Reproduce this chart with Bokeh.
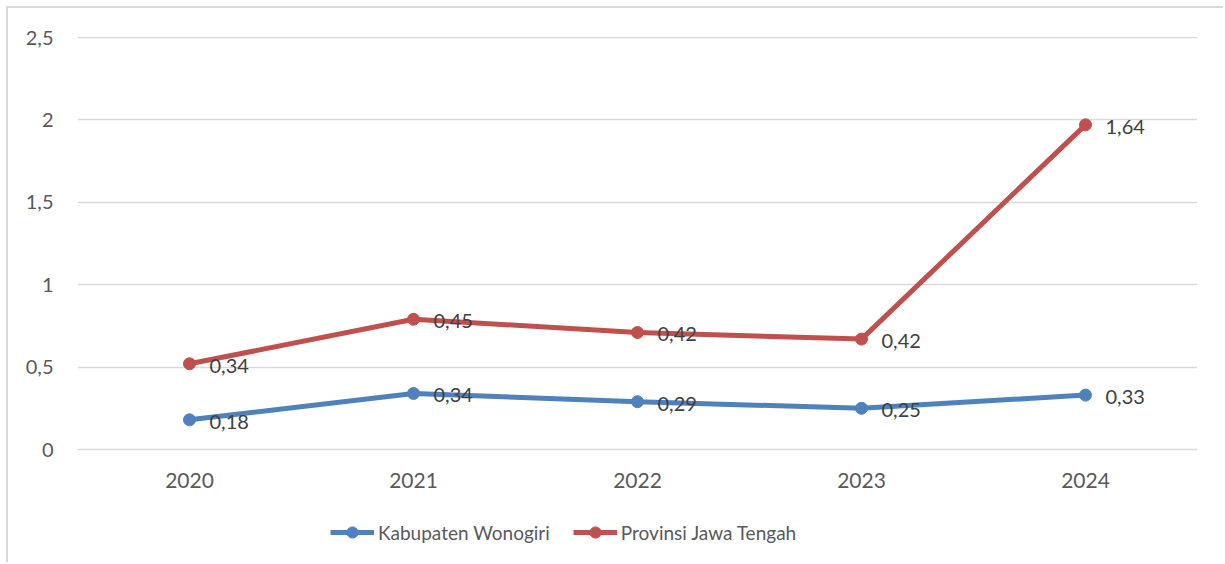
from bokeh.plotting import figure
from bokeh.models import (ColumnDataSource, FactorRange, Range1d, FixedTicker,
                          CustomJSTickFormatter, Legend, LegendItem, LabelSet)
from bokeh.core.properties import value
from bokeh.embed import file_html
from bokeh.resources import INLINE

years = ["2020", "2021", "2022", "2023", "2024"]
wonogiri = [0.18, 0.34, 0.29, 0.25, 0.33]
jateng = [0.34, 0.45, 0.42, 0.42, 1.64]
y_ticks = [0, 0.5, 1, 1.5, 2, 2.5]

BLUE = "#4F81BD"
RED = "#C0504D"
FONT = "Lato"
FS = "20px"

# stacked line chart: second series drawn on top of the first
jateng_stacked = [a + b for a, b in zip(wonogiri, jateng)]

def lbl(v):
    return ("%g" % v).replace(".", ",")

src_b = ColumnDataSource(dict(x=years, y=wonogiri, t=[lbl(v) for v in wonogiri]))
src_r = ColumnDataSource(dict(x=years, y=jateng_stacked, t=[lbl(v) for v in jateng]))
src_x = ColumnDataSource(dict(x=years, t=years))

# frame extends below the x baseline so the legend can live inside it
PX_PER_UNIT = 412 / 2.5
p = figure(width=1217, height=556, x_range=FactorRange(*years),
           y_range=Range1d(-115 / PX_PER_UNIT, 2.5 + 1 / PX_PER_UNIT),
           output_backend="svg", toolbar_location=None,
           min_border_left=69, min_border_right=28, min_border_top=28, min_border_bottom=0)
p.styles = {"border-left": "2px solid #D9D9D9", "border-top": "2px solid #D9D9D9",
            "margin-left": "6px", "margin-top": "6px"}
p.outline_line_color = None
p.background_fill_color = "white"
p.border_fill_color = "white"

p.xgrid.grid_line_color = None
p.ygrid.grid_line_color = "#D9D9D9"
p.ygrid.grid_line_width = 1.5

p.xaxis.visible = False
p.yaxis.ticker = FixedTicker(ticks=y_ticks)
p.yaxis.formatter = CustomJSTickFormatter(code="return tick.toString().replace('.', ',')")
ax = p.yaxis
ax.axis_line_color = None
ax.major_tick_line_color = None
ax.minor_tick_line_color = None
ax.major_tick_out = 0
ax.major_tick_in = 0
ax.major_label_text_font = FONT
ax.major_label_text_font_size = FS
ax.major_label_text_color = "#595959"
ax.major_label_standoff = 24

# category labels under the baseline
p.add_layout(LabelSet(x="x", y=0, text="t", source=src_x, y_offset=-31,
                      text_baseline="middle", text_align="center",
                      text_font=value(FONT), text_font_size="21px", text_color="#595959"))

lb = p.line("x", "y", source=src_b, line_color=BLUE, line_width=5)
cb = p.scatter("x", "y", source=src_b, size=12, fill_color=BLUE, line_color=BLUE)
lr = p.line("x", "y", source=src_r, line_color=RED, line_width=5)
cr = p.scatter("x", "y", source=src_r, size=12, fill_color=RED, line_color=RED)

for s in (src_b, src_r):
    p.add_layout(LabelSet(x="x", y="y", text="t", source=s, x_offset=20, y_offset=-2,
                          text_baseline="middle", text_align="left",
                          text_font=value(FONT), text_font_size=FS, text_color="#404040"))

legend = Legend(items=[LegendItem(label="Kabupaten Wonogiri", renderers=[lb, cb]),
                       LegendItem(label="Provinsi Jawa Tengah", renderers=[lr, cr])],
                orientation="horizontal", location=(253, 18), border_line_color=None,
                background_fill_alpha=0, glyph_width=44, glyph_height=28, label_height=28,
                label_standoff=4, spacing=23, padding=0, margin=0,
                label_text_font=FONT, label_text_font_size="19px", label_text_color="#595959")
p.add_layout(legend, "center")

open("out.html", "w").write(file_html(p, INLINE))
